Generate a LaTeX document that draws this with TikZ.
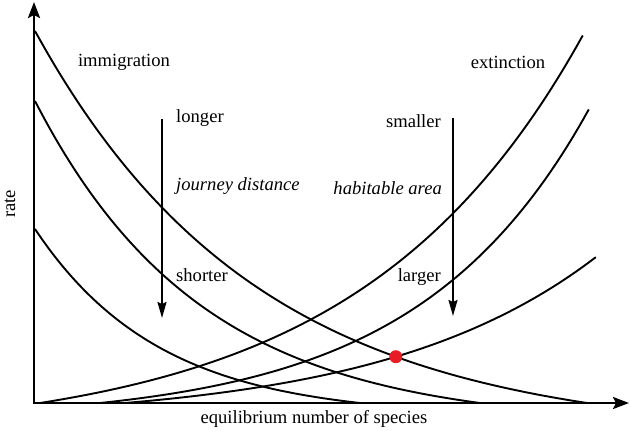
\documentclass[tikz,border=0pt]{standalone}
\usepackage{fontspec}
\setmainfont{Liberation Serif}[ItalicFont={Liberation Serif Italic}]
\usetikzlibrary{arrows.meta,intersections}
\definecolor{dotred}{RGB}{232,28,36}
\begin{document}
\begin{tikzpicture}[x=1pt,y=-1pt,
  axisline/.style={line width=2.6pt,{Stealth[length=16pt,width=12pt,inset=3pt]}-{Stealth[length=16pt,width=12pt,inset=3pt]}},
  curve/.style={line width=1.9pt},
  trend/.style={line width=1.9pt,-{Stealth[length=16pt,width=9pt,inset=2pt]}},
  lbl/.style={font=\fontsize{18.6}{22}\selectfont,inner sep=0pt},
  ilbl/.style={inner sep=0pt,font=\fontsize{18.6}{22}\selectfont\itshape},
  eqdot/.style={circle,fill=dotred,minimum size=13pt,inner sep=0pt}]
\useasboundingbox (0,0) rectangle (630,431);
% axes
\coordinate (ytip) at (34,2);
\coordinate (o) at (34,403);
\coordinate (xtip) at (629,403);
\draw[axisline] (ytip) -- (o) -- (xtip);
% immigration curves
\draw[curve,name path=imm1] plot[domain=0:1,samples=90,variable=\t]
  ({35+552*\t},{403-372*(exp(-2.48*\t)-exp(-2.48))/(1-exp(-2.48))});
\draw[curve,name path=imm2] plot[domain=0:1,samples=90,variable=\t]
  ({35+445*\t},{403-302*(exp(-2.67*\t)-exp(-2.67))/(1-exp(-2.67))});
\draw[curve,name path=imm3] plot[domain=0:1,samples=90,variable=\t]
  ({35+325*\t},{403-174*(exp(-2.6*\t)-exp(-2.6))/(1-exp(-2.6))});
% extinction curves
\draw[curve,name path=ext1] plot[domain=0:1,samples=90,variable=\t]
  ({40+543*\t},{403-368*(exp(2.44*\t)-1)/(exp(2.44)-1)});
\draw[curve,name path=ext2] plot[domain=0:1,samples=90,variable=\t]
  ({100+489*\t},{403-294*(exp(2.85*\t)-1)/(exp(2.85)-1)});
\draw[curve,name path=ext3] plot[domain=0:1,samples=90,variable=\t]
  ({125+471*\t},{403-146*(exp(2.2*\t)-1)/(exp(2.2)-1)});
% equilibrium point
\path[name intersections={of=imm1 and ext3,by=eq}];
\node[eqdot] (eqpt) at (eq) {};
% trend arrows
\coordinate (la) at (162,119);
\coordinate (lb) at (162,318);
\draw[trend] (la) -- (lb);
\coordinate (ra) at (453,118);
\coordinate (rb) at (453,316);
\draw[trend] (ra) -- (rb);
% labels
\node[lbl] (immlbl) at (124,62) {immigration};
\node[lbl] (extlbl) at (508,62) {extinction};
\node[lbl,anchor=west] (longer) at (176,118) {longer};
\node[ilbl,anchor=west] (journey) at (176,186) {journey distance};
\node[lbl,anchor=west] (shorter) at (176,275) {shorter};
\node[lbl,anchor=east] (smaller) at (441,121) {smaller};
\node[ilbl,anchor=east] (habitat) at (442,188) {habitable area};
\node[lbl,anchor=east] (larger) at (441,277) {larger};
\node[lbl,rotate=90] (rate) at (10,204) {rate};
\node[lbl] (xlbl) at (314,419) {equilibrium number of species};
\end{tikzpicture}
\end{document}
